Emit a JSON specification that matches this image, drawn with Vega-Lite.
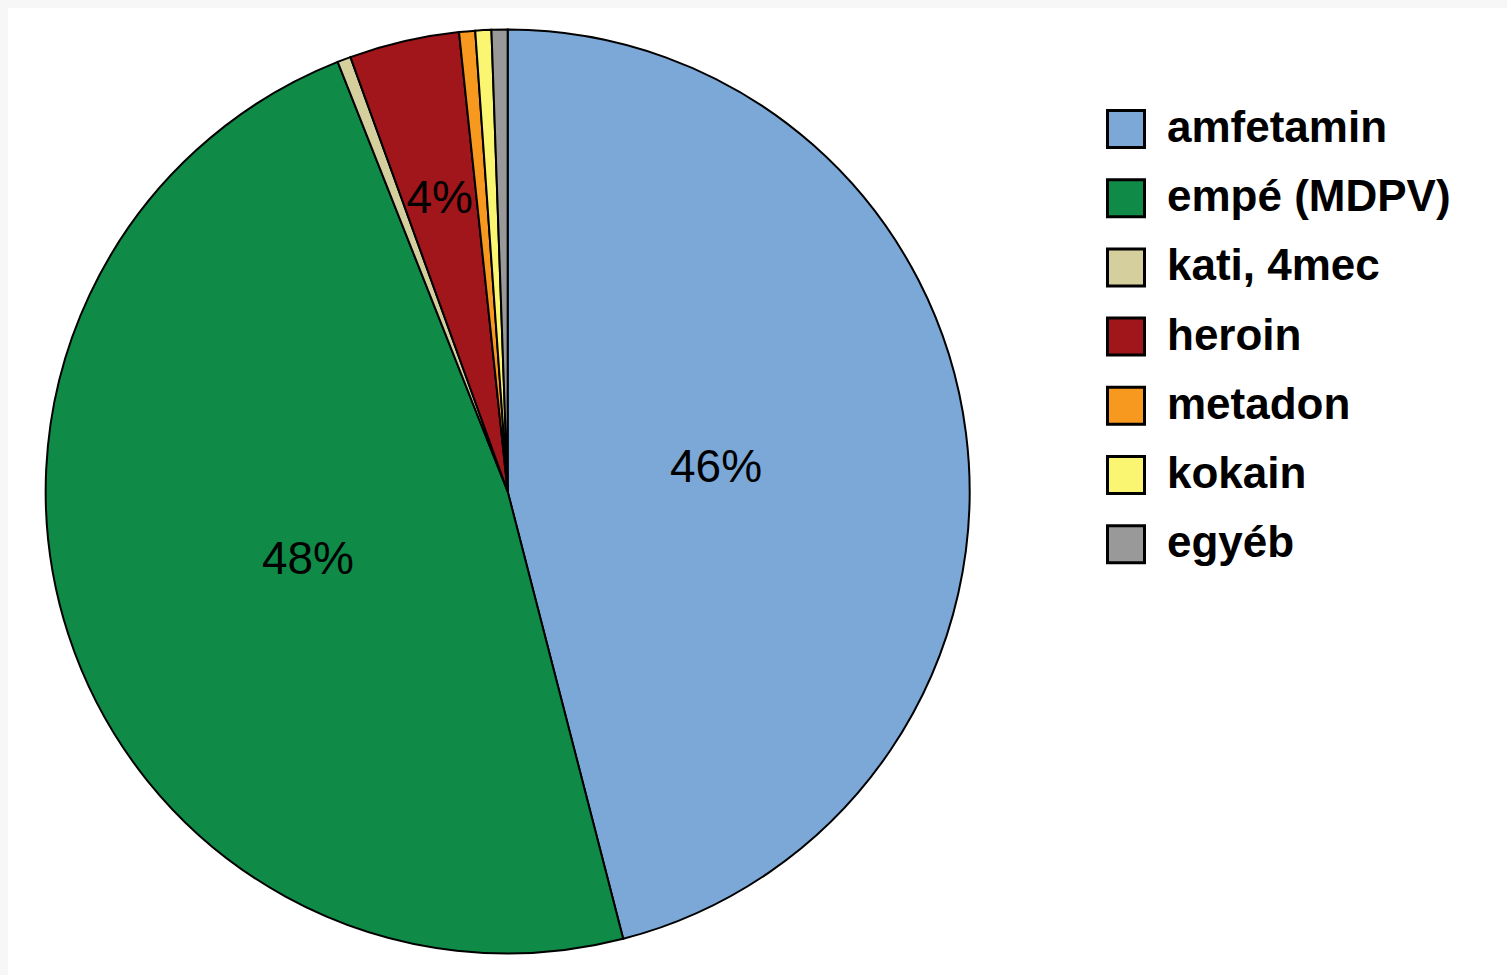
{
  "$schema": "https://vega.github.io/schema/vega-lite/v6.json",
  "width": 1507,
  "height": 975,
  "autosize": {"type": "fit", "contains": "padding"},
  "padding": {"left": 8, "top": 8, "right": 0, "bottom": 0},
  "background": "#f7f7f7",
  "config": {"view": {"fill": "white", "stroke": null}, "font": "Liberation Sans"},
  "data": {
    "values": [
      {"idx": 1, "item": "amfetamin", "share": 46.0, "label": "46%"},
      {"idx": 2, "item": "empé (MDPV)", "share": 48.05, "label": "48%"},
      {"idx": 3, "item": "kati, 4mec", "share": 0.47, "label": ""},
      {"idx": 4, "item": "heroin", "share": 3.85, "label": "4%"},
      {"idx": 5, "item": "metadon", "share": 0.56, "label": ""},
      {"idx": 6, "item": "kokain", "share": 0.56, "label": ""},
      {"idx": 7, "item": "egyéb", "share": 0.56, "label": ""}
    ]
  },
  "encoding": {
    "theta": {"field": "share", "type": "quantitative", "stack": true},
    "order": {"field": "idx", "type": "quantitative"},
    "x": {"datum": 1, "type": "quantitative", "scale": {"domain": [0, 3]}, "axis": null}
  },
  "layer": [
    {
      "mark": {"type": "arc", "radius": 462, "stroke": "black", "strokeWidth": 2},
      "encoding": {
        "color": {
          "field": "item",
          "type": "nominal",
          "scale": {
            "domain": ["amfetamin", "empé (MDPV)", "kati, 4mec", "heroin", "metadon", "kokain", "egyéb"],
            "range": ["#7ba8d6", "#0f8a47", "#d4cf9c", "#a1161b", "#f7991f", "#faf671", "#999999"]
          },
          "legend": {
            "title": null,
            "orient": "none",
            "legendX": 1096,
            "legendY": 99,
            "padding": 0,
            "symbolType": "square",
            "symbolSize": 1369,
            "symbolStrokeColor": "black",
            "symbolStrokeWidth": 3,
            "symbolOpacity": 1,
            "labelFont": "Liberation Sans",
            "labelFontSize": 44,
            "labelFontWeight": "bold",
            "labelColor": "black",
            "labelOffset": 19,
            "labelLimit": 500,
            "rowPadding": 19.2
          }
        }
      }
    },
    {
      "mark": {"type": "text", "radius": 210, "fontSize": 46, "color": "black", "font": "Liberation Sans", "dy": 3},
      "encoding": {
        "text": {"field": "label", "type": "nominal"},
        "opacity": {"condition": {"test": "datum.item !== 'heroin'", "value": 1}, "value": 0}
      }
    },
    {
      "mark": {"type": "text", "radius": 303, "fontSize": 46, "color": "black", "font": "Liberation Sans", "dy": 3},
      "encoding": {
        "text": {"field": "label", "type": "nominal"},
        "opacity": {"condition": {"test": "datum.item === 'heroin'", "value": 1}, "value": 0}
      }
    }
  ]
}
